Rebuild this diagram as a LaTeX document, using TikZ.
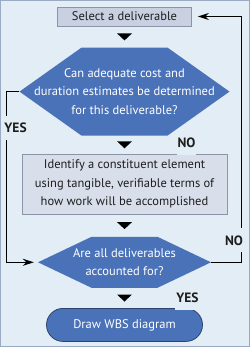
\documentclass[tikz,border=0pt]{standalone}
\usepackage{fontspec}
\setmainfont{PT Sans}
\usepackage{xcolor}
\usetikzlibrary{arrows.meta, positioning, calc}
\definecolor{panel}{HTML}{E3EDF5}
\definecolor{frame}{HTML}{9AAAC2}
\definecolor{qblue}{HTML}{4A72B8}
\definecolor{boxfill}{HTML}{C9D0E2}
\definecolor{boxline}{HTML}{8C94AA}
\definecolor{ink}{HTML}{1E1E1E}
\tikzstyle{stepbox} = [rectangle, draw=boxline, fill=boxfill, line width=0.8pt,
    text=ink, inner sep=0pt, align=center,
    minimum width=134pt, minimum height=19pt,
    font=\fontsize{12.5}{18.5}\selectfont]
\tikzset{query/.style={rectangle, text=white, inner sep=0pt, align=center,
    font=\fontsize{12.5}{18.5}\selectfont,
    path picture={\fill[qblue] (path picture bounding box.west)
      -- ([xshift=#1]path picture bounding box.north west)
      -- ([xshift=-#1]path picture bounding box.north east)
      -- (path picture bounding box.east)
      -- ([xshift=-#1]path picture bounding box.south east)
      -- ([xshift=#1]path picture bounding box.south west) -- cycle;}}}
\tikzstyle{finish} = [rectangle, rounded corners=16.5pt, draw=qblue!60!black,
    fill=qblue, text=white, line width=0.8pt,
    minimum width=156pt, minimum height=33pt,
    font=\fontsize{12.5}{18.5}\selectfont]
\tikzstyle{flag} = [fill=panel, text=ink, inner xsep=1pt, inner ysep=7pt,
    font=\fontsize{13.5}{16}\selectfont\bfseries]
\tikzstyle{arrow} = [line width=1.4pt, -{Stealth[length=11pt,width=7pt]}]

\begin{document}
\begin{tikzpicture}
  \useasboundingbox (0,0) rectangle (250pt,-347pt);
  \draw[draw=frame, fill=panel, line width=1.2pt] (0.6pt,-0.6pt) rectangle (249.4pt,-346.4pt);

  \node (sel) [stepbox] at (124.5pt,-16.5pt) {Select a deliverable};
  \node (q1)  [query=62pt, minimum width=210pt, minimum height=88pt, below=21pt of sel]
              {Can adequate cost and\\duration estimates be determined\\for this deliverable?};
  \node (act) [stepbox, fill=boxfill!70!white, minimum width=205pt, minimum height=60pt,
               below=18pt of q1]
              {Identify a constituent element\\using tangible, verifiable terms of\\how work will be accomplished};
  \node (q2)  [query=53.5pt, minimum width=173pt, minimum height=51pt, below=22pt of act]
              {Are all deliverables\\accounted for?};
  \node (wbs) [finish, below=20pt of q2] {Draw WBS diagram};

  % pointers between the steps
  \foreach \a/\b in {sel/q1, q1/act, act/q2, q2/wbs}
    \fill ($(\a.south)!.5!(\b.north)$) +(-7.5pt,3.5pt) -- +(7.5pt,3.5pt) -- +(0,-3.5pt) -- cycle;

  \draw[arrow] (q1.west) -- ++(-13pt,0) |- ([xshift=-4pt]q2.west);
  \draw[arrow] (q2.east) -- ++(30pt,0) |- ([xshift=6pt]sel.east);

  \node (yes1) [flag, anchor=west] at ($(q1.west)+(-16pt,-36pt)$) {YES};
  \node (no1)  [flag] at ($(q1.south)+(62pt,-7pt)$) {NO};
  \node (no2)  [flag, anchor=east] at ($(q2.east)+(33pt,22pt)$) {NO};
  \node (yes2) [flag] at ($(q2.south)+(63pt,-10pt)$) {YES};
\end{tikzpicture}
\end{document}
